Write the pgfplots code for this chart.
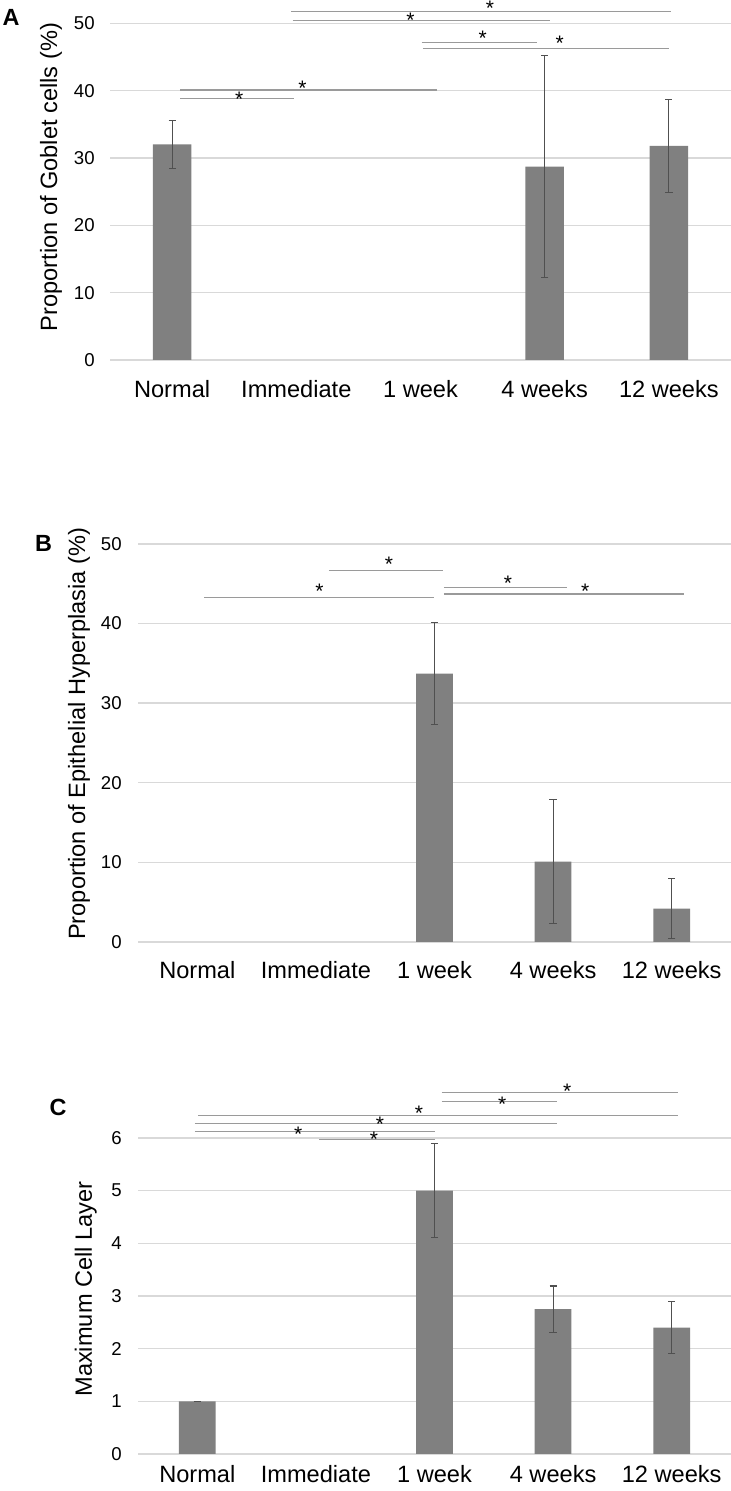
\documentclass[border=0pt]{standalone}
\usepackage{fontspec}
\setmainfont{Liberation Sans}
\usepackage{pgfplots}
\usepackage{pgfplotstable}
\pgfplotsset{compat=1.18}
\definecolor{barcol}{HTML}{808080}
\definecolor{gridcol}{HTML}{D9D9D9}
\definecolor{errcol}{HTML}{505050}
\definecolor{sigcol}{HTML}{9A9A9A}
\tikzset{sigstar/.style={font=\fontsize{10.5}{10.5}\selectfont, inner sep=0pt, anchor=base, yshift=-5.8pt}}
\pgfplotsset{
  panel/.style={
    scale only axis,
    anchor=south west,
    xmin=-0.5, xmax=4.5,
    ymin=0,
    axis line style={draw=none},
    major tick length=0pt,
    ymajorgrids,
    grid style={gridcol, line width=0.7pt},
    xtick={0,1,2,3,4},
    xticklabels={Normal,Immediate,1 week,4 weeks,12 weeks},
    /pgf/number format/assume math mode=true,
    yticklabel style={font=\fontsize{9.3}{10}\selectfont, inner sep=0pt, anchor=east},
    xticklabel style={font=\fontsize{11.8}{12}\selectfont, inner sep=0pt, anchor=north},
    ylabel style={font=\fontsize{11.8}{12}\selectfont, anchor=center},
    clip=false,
    bar width=0.31,
  },
  sig/.style={sigcol, line width=0.6pt, no marks, forget plot},
  bars/.style={ybar, fill=barcol, draw=none, bar shift=0pt,
    error bars/.cd, y dir=both, y explicit,
    error bar style={errcol, line width=0.55pt},
    error mark options={rotate=90, errcol, line width=0.55pt, mark size=1.8pt}},
}
\pgfplotstableread{
x y e
0 32.0 3.5
3 28.7 16.5
4 31.8 6.9
}\dataA
\pgfplotstableread{
x y e
2 33.7 6.4
3 10.1 7.8
4 4.2 3.8
}\dataB
\pgfplotstableread{
x y e
0 1.0 0.005
2 5.0 0.89
3 2.75 0.44
4 2.4 0.49
}\dataC
\begin{document}
\begin{tikzpicture}
\useasboundingbox (0,0) rectangle (365.5pt,745.5pt);
% ---------------- Panel A
\begin{axis}[panel, at={(55pt,565.5pt)}, width=310.5pt, height=168.35pt,
  ymax=50, ytick={0,10,20,30,40,50},
  yticklabel style={xshift=-7.5pt}, xticklabel style={yshift=-10pt},
  ylabel={Proportion of Goblet cells (\%)},
  ylabel style={at={(axis description cs:-0.095,0.543)}}]
\addplot[bars] table[x=x,y=y,y error=e] {\dataA};
\addplot[sig] coordinates {(0.96,51.78) (4.02,51.78)};
\addplot[sig] coordinates {(0.97,50.45) (3.04,50.45)};
\addplot[sig] coordinates {(2.01,47.18) (2.94,47.18)};
\addplot[sig] coordinates {(2.02,46.29) (4.00,46.29)};
\addplot[sig] coordinates {(0.065,40.1) (2.13,40.1)};
\addplot[sig] coordinates {(0.065,38.8) (0.98,38.8)};
\node[sigstar] at (axis cs:2.56,52.87) {*};
\node[sigstar] at (axis cs:1.92,51.09) {*};
\node[sigstar] at (axis cs:2.50,48.37) {*};
\node[sigstar] at (axis cs:3.12,47.62) {*};
\node[sigstar] at (axis cs:1.05,40.99) {*};
\node[sigstar] at (axis cs:0.54,39.36) {*};
\end{axis}
% ---------------- Panel B
\begin{axis}[panel, at={(69pt,274.5pt)}, width=296.5pt, height=199pt,
  ymax=50, ytick={0,10,20,30,40,50},
  yticklabel style={xshift=-8pt}, xticklabel style={yshift=-9.7pt},
  ylabel={Proportion of Epithelial Hyperplasia (\%)},
  ylabel style={at={(axis description cs:-0.0995,0.523)}}]
\addplot[bars] table[x=x,y=y,y error=e] {\dataB};
\addplot[sig] coordinates {(1.11,46.65) (2.07,46.65)};
\addplot[sig] coordinates {(0.06,43.31) (2.00,43.31)};
\addplot[sig] coordinates {(2.08,44.56) (3.12,44.56)};
\addplot[sig] coordinates {(2.08,43.72) (4.10,43.72)};
\node[sigstar] at (axis cs:1.615,47.99) {*};
\node[sigstar] at (axis cs:1.03,44.56) {*};
\node[sigstar] at (axis cs:2.62,45.61) {*};
\node[sigstar] at (axis cs:3.27,44.64) {*};
\end{axis}
% ---------------- Panel C
\begin{axis}[panel, at={(69pt,18.5pt)}, width=296.5pt, height=158pt,
  ymax=6, ytick={0,1,2,3,4,5,6},
  yticklabel style={xshift=-8pt}, xticklabel style={yshift=-5.3pt},
  ylabel={Maximum Cell Layer},
  ylabel style={at={(axis description cs:-0.088,0.522)}}]
\addplot[bars] table[x=x,y=y,y error=e] {\dataC};
\addplot[sig] coordinates {(2.06,6.864) (4.05,6.864)};
\addplot[sig] coordinates {(2.06,6.694) (3.03,6.694)};
\addplot[sig] coordinates {(0.01,6.429) (4.05,6.429)};
\addplot[sig] coordinates {(-0.02,6.271) (3.03,6.271)};
\addplot[sig] coordinates {(-0.02,6.126) (2.00,6.126)};
\addplot[sig] coordinates {(1.03,5.968) (2.00,5.968)};
\node[sigstar] at (axis cs:3.12,6.97) {*};
\node[sigstar] at (axis cs:2.57,6.73) {*};
\node[sigstar] at (axis cs:1.87,6.55) {*};
\node[sigstar] at (axis cs:1.54,6.34) {*};
\node[sigstar] at (axis cs:0.85,6.16) {*};
\node[sigstar] at (axis cs:1.49,6.06) {*};
\end{axis}
% panel letters
\node[font=\bfseries\fontsize{11.7}{12}\selectfont, inner sep=0pt] at (5.5pt,736.75pt) {A};
\node[font=\bfseries\fontsize{11.7}{12}\selectfont, inner sep=0pt] at (21.75pt,474pt) {B};
\node[font=\bfseries\fontsize{11.7}{12}\selectfont, inner sep=0pt] at (29pt,192pt) {C};
\end{tikzpicture}
\end{document}
